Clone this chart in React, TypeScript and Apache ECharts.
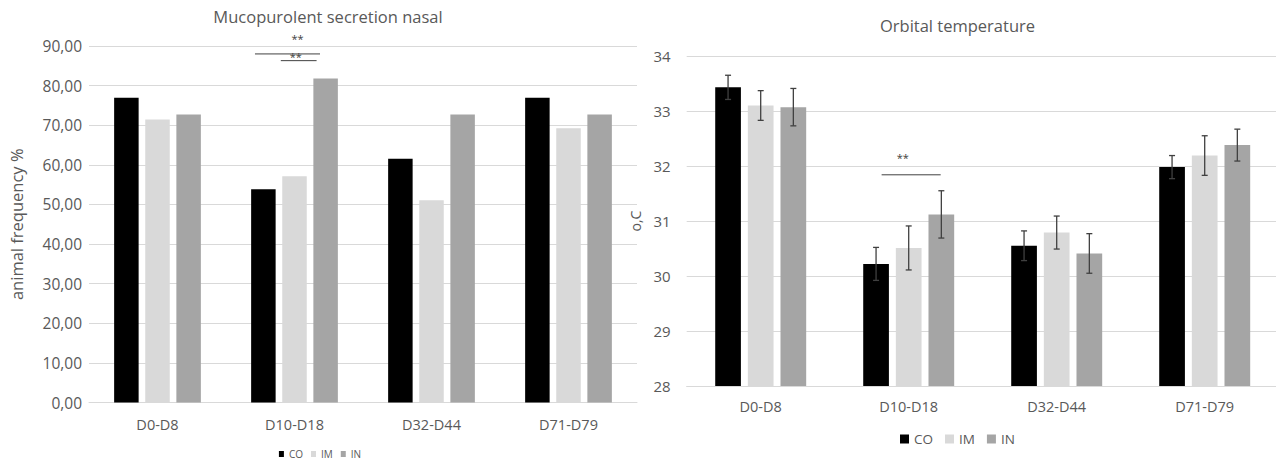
import React, { useEffect, useRef } from 'react';
import * as echarts from 'echarts';

// Sampling periods and treatment groups
const categories = ['D0-D8', 'D10-D18', 'D32-D44', 'D71-D79'];
const groupNames = ['CO', 'IM', 'IN'];
const groupColors = ['#000000', '#d9d9d9', '#a5a5a5'];

// Mucopurulent nasal secretion, animal frequency (%)
const mucoCO = [76.92, 53.85, 61.54, 76.92];
const mucoIM = [71.43, 57.14, 51.06, 69.23];
const mucoIN = [72.73, 81.82, 72.73, 72.73];

// Orbital temperature (°C), mean and error
const tempCO = [33.43, 30.22, 30.55, 31.98];
const tempIM = [33.1, 30.51, 30.79, 32.19];
const tempIN = [33.07, 31.12, 30.41, 32.38];
const tempCOErr = [0.22, 0.3, 0.27, 0.21];
const tempIMErr = [0.27, 0.4, 0.3, 0.36];
const tempINErr = [0.34, 0.43, 0.36, 0.29];

// Significance brackets: category, level, span in bar slots, label level
const mucoSig = [
  { cat: 1, y: 88.0, from: -1.27, to: 0.82, label: '**', labelY: 91.8, labelAt: 0.1 },
  { cat: 1, y: 86.3, from: -0.44, to: 0.71, label: '**', labelY: 87.4, labelAt: 0.04 },
];
const tempSig = [
  { cat: 1, y: 31.84, from: -0.83, to: 0.98, label: '**', labelY: 32.15, labelAt: -0.18 },
];

const FONT = '"Open Sans", "DejaVu Sans", sans-serif';
const TEXT = '#595959';
const GRID = '#d9d9d9';
const MARK = '#404040';

const comma2 = (v: number) => v.toFixed(2).replace('.', ',');

function sigSeries(sig: typeof mucoSig, pitch: number) {
  return {
    type: 'custom',
    silent: true,
    z: 5,
    clip: false,
    data: sig.map((s) => [s.cat, s.y]),
    renderItem: (params: any, api: any) => {
      const s = sig[params.dataIndex];
      const c = api.coord([s.cat, s.y]);
      const t = api.coord([s.cat, s.labelY]);
      return {
        type: 'group',
        children: [
          {
            type: 'line',
            shape: { x1: c[0] + s.from * pitch, y1: c[1], x2: c[0] + s.to * pitch, y2: c[1] },
            style: { stroke: MARK, lineWidth: 1 },
          },
          {
            type: 'text',
            style: {
              text: s.label,
              x: t[0] + s.labelAt * pitch,
              y: t[1],
              align: 'center',
              verticalAlign: 'middle',
              fill: MARK,
              font: `11px ${FONT}`,
            },
          },
        ],
      };
    },
  };
}

function errorSeries(values: number[], errs: number[], slot: number, pitch: number) {
  return {
    type: 'custom',
    silent: true,
    z: 4,
    data: values.map((v, i) => [i, v, errs[i]]),
    renderItem: (params: any, api: any) => {
      const i = api.value(0);
      const v = api.value(1);
      const e = api.value(2);
      const hi = api.coord([i, v + e]);
      const lo = api.coord([i, v - e]);
      const x = hi[0] + slot * pitch;
      const cap = 3;
      const st = { stroke: MARK, lineWidth: 1.3 };
      return {
        type: 'group',
        children: [
          { type: 'line', shape: { x1: x, y1: hi[1], x2: x, y2: lo[1] }, style: st },
          { type: 'line', shape: { x1: x - cap, y1: hi[1], x2: x + cap, y2: hi[1] }, style: st },
          { type: 'line', shape: { x1: x - cap, y1: lo[1], x2: x + cap, y2: lo[1] }, style: st },
        ],
      };
    },
  };
}

function baseXAxis(labelMargin: number) {
  return {
    type: 'category',
    data: categories,
    axisTick: { show: false },
    axisLine: { lineStyle: { color: GRID, width: 1 } },
    axisLabel: { color: TEXT, fontSize: 14.5, fontFamily: FONT, margin: labelMargin },
  };
}

function mucoOption() {
  const barWidth = 24.5;
  const gapRatio = 0.27;
  const pitch = barWidth * (1 + gapRatio);
  const series = [mucoCO, mucoIM, mucoIN].map((d, k) => ({
    name: groupNames[k],
    type: 'bar',
    data: d,
    barWidth,
    barGap: `${gapRatio * 100}%`,
    itemStyle: { color: groupColors[k] },
  }));
  return {
    animation: false,
    textStyle: { fontFamily: FONT },
    title: {
      text: 'Mucopurolent secretion nasal',
      left: 323,
      textAlign: 'center',
      top: 3,
      textStyle: { color: TEXT, fontSize: 16.5, fontWeight: 'normal', fontFamily: FONT },
    },
    legend: {
      data: groupNames,
      left: 'center',
      top: 444,
      icon: 'rect',
      itemWidth: 5,
      itemHeight: 6,
      itemGap: 8,
      textStyle: { color: TEXT, fontSize: 10, fontFamily: FONT },
    },
    grid: { left: 85, top: 46, width: 552, height: 356.5 },
    xAxis: baseXAxis(14),
    yAxis: {
      type: 'value',
      min: 0,
      max: 90,
      interval: 10,
      name: 'animal frequency %',
      nameLocation: 'middle',
      nameGap: 64,
      nameTextStyle: { color: TEXT, fontSize: 16.5, fontFamily: FONT },
      axisLine: { show: false },
      axisTick: { show: false },
      splitLine: { lineStyle: { color: GRID, width: 1 } },
      axisLabel: { color: TEXT, fontSize: 15.5, fontFamily: FONT, margin: 7, formatter: comma2 },
    },
    series: [...series, sigSeries(mucoSig, pitch)],
  };
}

function tempOption() {
  const barWidth = 25.7;
  const gapRatio = 0.27;
  const pitch = barWidth * (1 + gapRatio);
  const values = [tempCO, tempIM, tempIN];
  const errs = [tempCOErr, tempIMErr, tempINErr];
  const bars = values.map((d, k) => ({
    name: groupNames[k],
    type: 'bar',
    data: d,
    barWidth,
    barGap: `${gapRatio * 100}%`,
    itemStyle: { color: groupColors[k] },
  }));
  const errBars = values.map((d, k) => errorSeries(d, errs[k], k - 1, pitch));
  return {
    animation: false,
    textStyle: { fontFamily: FONT },
    title: {
      text: 'Orbital temperature',
      left: 332.5,
      textAlign: 'center',
      top: 12,
      textStyle: { color: TEXT, fontSize: 16.5, fontWeight: 'normal', fontFamily: FONT },
    },
    legend: {
      data: groupNames,
      left: 275,
      top: 427,
      icon: 'rect',
      itemWidth: 9,
      itemHeight: 9,
      itemGap: 12,
      textStyle: { color: TEXT, fontSize: 13.5, fontFamily: FONT },
    },
    grid: { left: 66.7, top: 56, width: 592, height: 330 },
    xAxis: baseXAxis(13),
    yAxis: {
      type: 'value',
      min: 28,
      max: 34,
      interval: 1,
      name: 'o,C',
      nameLocation: 'middle',
      nameGap: 43,
      nameTextStyle: { color: TEXT, fontSize: 14, fontFamily: FONT },
      axisLine: { show: false },
      axisTick: { show: false },
      splitLine: { lineStyle: { color: GRID, width: 1 } },
      axisLabel: { color: TEXT, fontSize: 15, fontFamily: FONT, margin: 16 },
    },
    series: [...bars, ...errBars, sigSeries(tempSig, pitch)],
  };
}

function Chart({ option, style }: { option: any; style: React.CSSProperties }) {
  const ref = useRef<HTMLDivElement>(null);
  useEffect(() => {
    if (!ref.current) return;
    const chart = echarts.init(ref.current, undefined, { renderer: 'svg' });
    chart.setOption(option);
    return () => chart.dispose();
  }, [option]);
  return <div ref={ref} style={style} />;
}

const leftOption = mucoOption();
const rightOption = tempOption();

export default function App() {
  return (
    <div
      style={{
        position: 'fixed',
        left: 0,
        top: 0,
        width: 1276,
        height: 462,
        overflow: 'hidden',
        background: '#ffffff',
      }}
    >
      <Chart option={leftOption} style={{ position: 'absolute', left: 0, top: 0, width: 640, height: 462 }} />
      <Chart option={rightOption} style={{ position: 'absolute', left: 620, top: 0, width: 660, height: 462 }} />
    </div>
  );
}
